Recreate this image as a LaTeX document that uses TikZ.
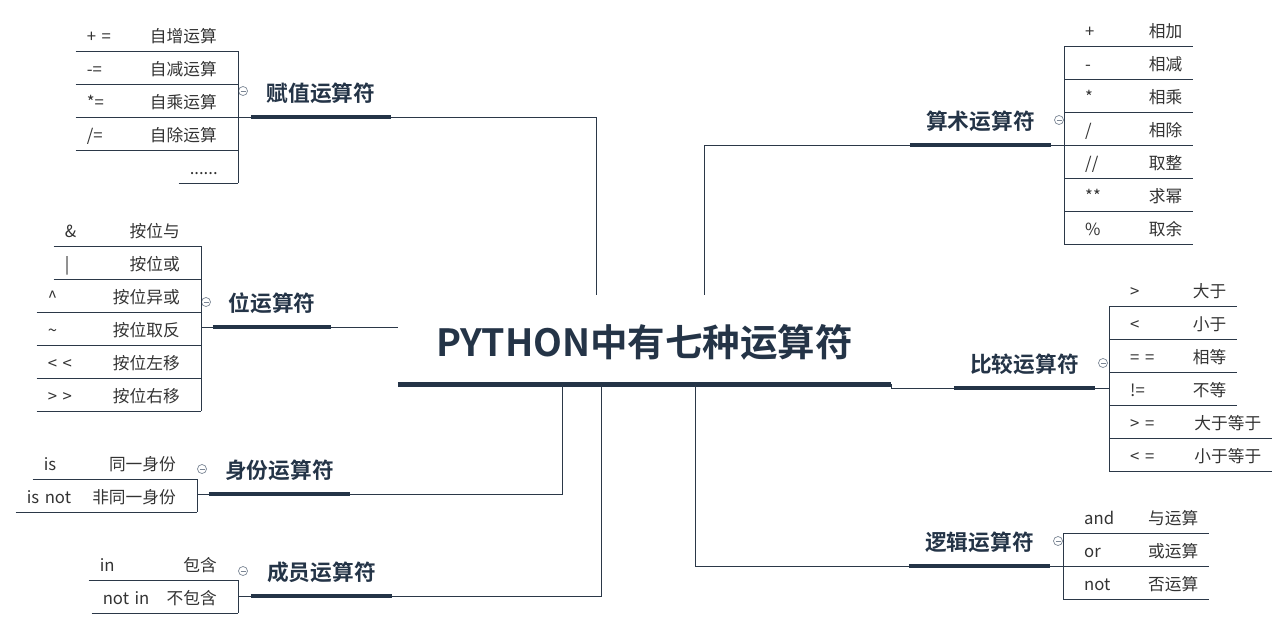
\documentclass[tikz,border=0pt]{standalone}
\usepackage{fontspec}
\setmainfont{Noto Sans CJK SC}[BoldFont={Noto Sans CJK SC Bold}]
\definecolor{ink}{HTML}{243447}
\definecolor{leafc}{HTML}{333333}
\definecolor{linec}{HTML}{2B3848}
\definecolor{foldc}{HTML}{7A8594}
\tikzset{
link/.style={draw=linec, line width=1pt},
bar/.style={draw=ink, line width=4pt},
leaf/.style={
    inner xsep=0pt,
    inner ysep=4.5pt,
    text height=13pt,
    text depth=4pt,
    text=leafc,
    font=\fontsize{16.7pt}{20pt}\selectfont,
    append after command={(\tikzlastnode.south west) edge[link] (\tikzlastnode.south east)}
},
leafl/.style={leaf, anchor=south east,
    execute at begin node={\hspace*{11pt}}, execute at end node={\hspace*{21pt}}},
leafr/.style={leaf, anchor=south west,
    execute at begin node={\hspace*{21pt}}, execute at end node={\hspace*{11pt}}},
topic/.style={
    anchor=south,
    inner xsep=0pt,
    inner ysep=10.5pt,
    text height=18pt,
    text depth=5pt,
    text=ink,
    font=\fontsize{21.7pt}{26pt}\selectfont\bfseries,
    append after command={(\tikzlastnode.south west) edge[bar] (\tikzlastnode.south east)}
},
fold/.style={
    circle, draw=foldc, line width=0.7pt, minimum size=9pt, inner sep=0pt,
    path picture={\draw[foldc, line width=0.7pt]
        ([xshift=-2.5pt]path picture bounding box.center) -- ([xshift=2.5pt]path picture bounding box.center);}
}}

\begin{document}
\begin{tikzpicture}[x=1pt, y=-1pt]
    \useasboundingbox (0,0) rectangle (1288,629);

    % root
    \node[minimum width=493pt, minimum height=89pt, inner sep=0pt, text=ink,
        text height=35pt, text depth=1.5pt,
        font=\fontsize{37.5pt}{42pt}\selectfont\bfseries] (root) at (644.5,339.5) {PYTHON中有七种运算符};
    \draw[bar, line width=5pt] (root.south west) -- (root.south east);

    % topics
    \node[topic, minimum width=140pt] (fz) at (321,117) {赋值运算符};
    \node[topic, minimum width=118pt] (wei) at (272,327) {位运算符};
    \node[topic, minimum width=141pt] (sf) at (279.5,494) {身份运算符};
    \node[topic, minimum width=141pt] (cy) at (321.5,596) {成员运算符};
    \node[topic, minimum width=141pt] (ss) at (980.5,145) {算术运算符};
    \node[topic, minimum width=141pt] (bj) at (1024.5,388) {比较运算符};
    \node[topic, minimum width=141pt] (lj) at (979.5,566) {逻辑运算符};

    % fold markers
    \node[fold] (fzf) at (243,91) {};
    \node[fold] (weif) at (206,302) {};
    \node[fold] (sff) at (202,469) {};
    \node[fold] (cyf) at (243,571) {};
    \node[fold] (ssf) at (1059,120) {};
    \node[fold] (bjf) at (1103,363) {};
    \node[fold] (ljf) at (1058,541) {};

    % leaves, left side
    \node[leafl, text width=162pt] (fz1) at (238,51) {+ =\hfill 自增运算};
    \node[leafl, text width=162pt] (fz2) at (238,84) {-=\hfill 自减运算};
    \node[leafl, text width=162pt] (fz3) at (238,117) {*=\hfill 自乘运算};
    \node[leafl, text width=162pt] (fz4) at (238,150) {/=\hfill 自除运算};
    \node[leafl, text width=59pt] (fz5) at (238,183) {\nobreak\hfill ......};

    \node[leafl, text width=147pt] (w1) at (201,246) {\&\hfill 按位与};
    \node[leafl, text width=147pt] (w2) at (201,279) {|\hfill 按位或};
    \node[leafl, text width=164pt] (w3) at (201,312) {\textasciicircum\hfill 按位异或};
    \node[leafl, text width=164pt] (w4) at (201,345) {\textasciitilde\hfill 按位取反};
    \node[leafl, text width=164pt] (w5) at (201,378) {< <\hfill 按位左移};
    \node[leafl, text width=164pt] (w6) at (201,411) {> >\hfill 按位右移};

    \node[leafl, text width=164pt] (sf1) at (197,479) {is\hfill 同一身份};
    \node[leafl, text width=181pt] (sf2) at (197,512) {is not\hfill 非同一身份};

    \node[leafl, text width=149pt] (cy1) at (238,580) {in\hfill 包含};
    \node[leafl, text width=146pt] (cy2) at (238,613) {not in\hfill 不包含};

    % leaves, right side
    \node[leafr, text width=129pt] (ss1) at (1064,46) {+\hfill 相加};
    \node[leafr, text width=129pt] (ss2) at (1064,79) {-\hfill 相减};
    \node[leafr, text width=129pt] (ss3) at (1064,112) {*\hfill 相乘};
    \node[leafr, text width=129pt] (ss4) at (1064,145) {/\hfill 相除};
    \node[leafr, text width=129pt] (ss5) at (1064,178) {//\hfill 取整};
    \node[leafr, text width=129pt] (ss6) at (1064,211) {**\hfill 求幂};
    \node[leafr, text width=129pt] (ss7) at (1064,244) {\%\hfill 取余};

    \node[leafr, text width=128pt] (bj1) at (1109,306) {>\hfill 大于};
    \node[leafr, text width=128pt] (bj2) at (1109,339) {<\hfill 小于};
    \node[leafr, text width=128pt] (bj3) at (1109,372) {= =\hfill 相等};
    \node[leafr, text width=128pt] (bj4) at (1109,405) {!=\hfill 不等};
    \node[leafr, text width=163pt] (bj5) at (1109,438) {> =\hfill 大于等于};
    \node[leafr, text width=163pt] (bj6) at (1109,471) {< =\hfill 小于等于};

    \node[leafr, text width=146pt] (lj1) at (1063,533) {and\hfill 与运算};
    \node[leafr, text width=146pt] (lj2) at (1063,566) {or\hfill 或运算};
    \node[leafr, text width=146pt] (lj3) at (1063,599) {not\hfill 否运算};

    % brackets
    \draw[link] (fz1.south east) -- (fz5.south east);
    \draw[link] (w1.south east) -- (w6.south east);
    \draw[link] (sf1.south east) -- (sf2.south east);
    \draw[link] (cy1.south east) -- (cy2.south east);
    \draw[link] (ss1.south west) -- (ss7.south west);
    \draw[link] (bj1.south west) -- (bj6.south west);
    \draw[link] (lj1.south west) -- (lj3.south west);

    % topic to bracket
    \draw[link] (fz.south west) -- (fz.south west -| fz1.south east);
    \draw[link] (wei.south west) -- (wei.south west -| w1.south east);
    \draw[link] (sf.south west) -- (sf.south west -| sf1.south east);
    \draw[link] (cy.south west) -- (cy.south west -| cy1.south east);
    \draw[link] (ss.south east) -- (ss.south east -| ss1.south west);
    \draw[link] (bj.south east) -- (bj.south east -| bj1.south west);
    \draw[link] (lj.south east) -- (lj.south east -| lj1.south west);

    % root to topics
    \draw[link] (fz.south east) -| ([xshift=-48.5pt]root.north);
    \draw[link] (ss.south west) -| ([xshift=59.5pt]root.north);
    \draw[link] (wei.south east) -- (wei.south east -| root.west);
    \draw[link] (root.south east) |- (bj.south west);
    \draw[link] ([xshift=-82.5pt]root.south) |- (sf.south east);
    \draw[link] ([xshift=-43.5pt]root.south) |- (cy.south east);
    \draw[link] ([xshift=50.5pt]root.south) |- (lj.south west);

\end{tikzpicture}
\end{document}
